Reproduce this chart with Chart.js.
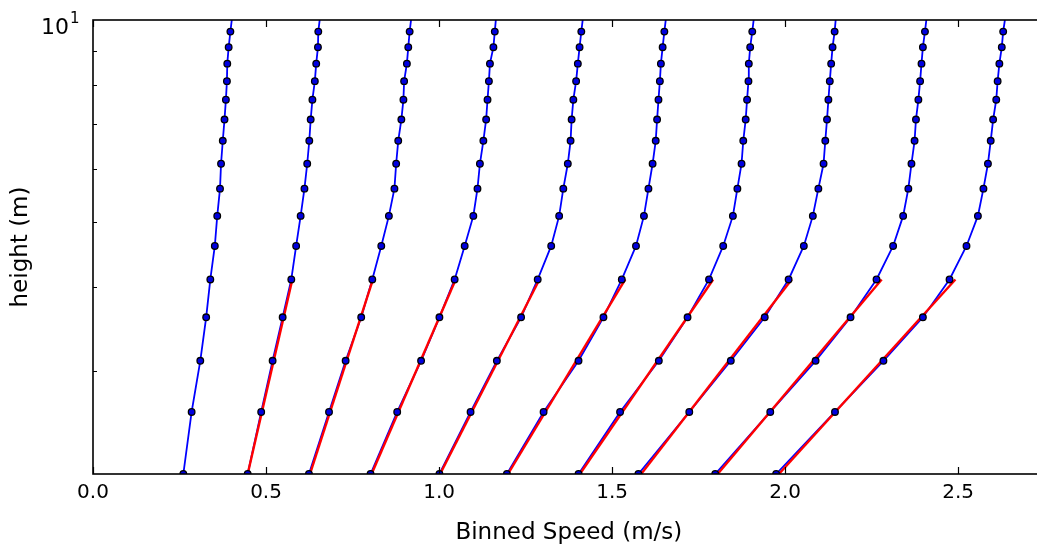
<!DOCTYPE html>
<html>
<head>
<meta charset="utf-8">
<script src="https://cdn.jsdelivr.net/npm/chart.js@4/dist/chart.umd.min.js"></script>
<style>
  html, body { margin: 0; padding: 0; background: #fff; overflow: hidden; }
  #wrap { width: 1037px; height: 550px; overflow: hidden; }
  canvas { display: block; }
</style>
</head>
<body>
<div id="wrap"><canvas id="c" width="1050" height="550" style="width:1050px;height:550px"></canvas></div>
<script>
// Heights of the bins (m), bottom to top
const heights = [2.11, 2.61, 3.11, 3.61, 4.11, 4.61, 5.11, 5.61, 6.11, 6.61, 7.11, 7.61, 8.11, 8.61, 9.11, 9.61];
// Binned speed profiles (m/s), one array per bin, bottom to top
const speed1  = [0.261, 0.285, 0.310, 0.327, 0.339, 0.352, 0.359, 0.367, 0.370, 0.375, 0.380, 0.384, 0.387, 0.388, 0.392, 0.397];
const speed2  = [0.447, 0.486, 0.519, 0.548, 0.573, 0.587, 0.600, 0.611, 0.619, 0.625, 0.629, 0.634, 0.641, 0.645, 0.650, 0.651];
const speed3  = [0.624, 0.682, 0.730, 0.775, 0.807, 0.833, 0.855, 0.871, 0.876, 0.882, 0.891, 0.897, 0.899, 0.907, 0.911, 0.915];
const speed4  = [0.802, 0.879, 0.948, 1.001, 1.045, 1.074, 1.099, 1.111, 1.118, 1.128, 1.136, 1.140, 1.144, 1.147, 1.157, 1.161];
const speed5  = [1.001, 1.091, 1.167, 1.237, 1.285, 1.324, 1.347, 1.359, 1.372, 1.380, 1.383, 1.388, 1.396, 1.401, 1.406, 1.411];
const speed6  = [1.196, 1.302, 1.403, 1.475, 1.528, 1.569, 1.592, 1.605, 1.617, 1.626, 1.630, 1.634, 1.638, 1.641, 1.646, 1.651];
const speed7  = [1.403, 1.523, 1.635, 1.718, 1.780, 1.821, 1.849, 1.862, 1.874, 1.879, 1.886, 1.890, 1.894, 1.895, 1.899, 1.905];
const speed8  = [1.576, 1.723, 1.843, 1.941, 2.010, 2.054, 2.080, 2.096, 2.111, 2.116, 2.121, 2.125, 2.129, 2.133, 2.137, 2.143];
const speed9  = [1.798, 1.957, 2.088, 2.189, 2.264, 2.312, 2.341, 2.356, 2.365, 2.374, 2.378, 2.385, 2.390, 2.394, 2.398, 2.404];
const speed10 = [1.974, 2.144, 2.284, 2.398, 2.475, 2.524, 2.557, 2.573, 2.586, 2.594, 2.601, 2.610, 2.614, 2.619, 2.626, 2.630];
const profiles = [speed1, speed2, speed3, speed4, speed5, speed6, speed7, speed8, speed9, speed10];
// Profile curve value where it leaves the top of the plot (height 10 m)
const topHeight = 10;
const topSpeed = [0.401, 0.655, 0.919, 1.164, 1.415, 1.655, 1.909, 2.146, 2.408, 2.635];
// Log-law fits over the lower bins (red): heights and speeds at the fit ends
const fitHeights = [2.11, 4.11];
const fitLow  = [null, 0.447, 0.627, 0.805, 1.003, 1.199, 1.407, 1.584, 1.805, 1.982];
const fitHigh = [null, 0.576, 0.809, 1.048, 1.290, 1.538, 1.792, 2.019, 2.279, 2.492];
// Axes
const xTicks = [0.0, 0.5, 1.0, 1.5, 2.0, 2.5];
const yMinorTicks = [3, 4, 5, 6, 7, 8, 9];
const xRange = [0, 2.75];
const yRange = [2.11, 10];
const xLabel = 'Binned Speed (m/s)';
const yLabel = 'height (m)';

const FONT = "'DejaVu Sans', 'Liberation Sans', sans-serif";

const datasets = [];
profiles.forEach((sp, i) => {
  const pts = heights.map((h, k) => ({ x: sp[k], y: h }));
  datasets.push({
    data: pts.concat([{ x: topSpeed[i], y: topHeight }]),
    showLine: true, borderColor: '#0000ff', borderWidth: 1.8,
    pointRadius: 0, order: 3, clip: 0
  });
  if (fitLow[i] !== null) {
    datasets.push({
      data: [{ x: fitLow[i], y: fitHeights[0] }, { x: fitHigh[i], y: fitHeights[1] }],
      showLine: true, borderColor: '#ff0000', borderWidth: 2.4,
      pointRadius: 0, order: 2, clip: 0
    });
  }
  datasets.push({
    data: pts, showLine: false,
    pointRadius: 3.3, pointBackgroundColor: '#0000e0', pointBorderColor: '#000000',
    pointBorderWidth: 1.3, order: 1, clip: 0
  });
});

const framePlugin = {
  id: 'frame',
  afterDatasetsDraw(chart) {
    const { ctx, chartArea: a, scales } = chart;
    const xs = scales.x, ys = scales.y;
    ctx.save();
    ctx.strokeStyle = '#000';
    ctx.lineWidth = 1.2;
    // x ticks (inward, bottom and top)
    xTicks.forEach(v => {
      const px = Math.round(xs.getPixelForValue(v)) + 0.5;
      ctx.beginPath();
      ctx.moveTo(px, a.bottom); ctx.lineTo(px, a.bottom - 7);
      ctx.moveTo(px, a.top); ctx.lineTo(px, a.top + 7);
      ctx.stroke();
    });
    // y minor ticks (inward, left and right)
    yMinorTicks.forEach(v => {
      const py = Math.round(ys.getPixelForValue(v)) + 0.5;
      ctx.beginPath();
      ctx.moveTo(a.left, py); ctx.lineTo(a.left + 4, py);
      ctx.moveTo(a.right, py); ctx.lineTo(a.right - 4, py);
      ctx.stroke();
    });
    // frame
    ctx.lineWidth = 1.6;
    ctx.strokeRect(a.left, a.top, a.right - a.left, a.bottom - a.top);
    // y tick label 10^1
    const py = ys.getPixelForValue(10);
    ctx.fillStyle = '#000';
    ctx.textBaseline = 'alphabetic';
    ctx.textAlign = 'right';
    ctx.font = '22px ' + FONT;
    ctx.fillText('10', 69, py + 14);
    ctx.textAlign = 'left';
    ctx.font = '15px ' + FONT;
    ctx.fillText('1', 70, py + 3);
    ctx.restore();
  }
};

new Chart(document.getElementById('c'), {
  type: 'scatter',
  data: { datasets },
  options: {
    responsive: false,
    animation: false,
    layout: { padding: { left: 0, top: 20, right: 2, bottom: 0 } },
    plugins: { legend: { display: false }, tooltip: { enabled: false } },
    scales: {
      x: {
        type: 'linear', min: xRange[0], max: xRange[1],
        grid: { display: false, drawTicks: false },
        border: { display: false },
        ticks: {
          stepSize: 0.5, includeBounds: false, padding: 7,
          font: { family: FONT, size: 20 }, color: '#000',
          callback: v => Number(v).toFixed(1)
        },
        title: { display: true, text: xLabel, color: '#000',
                 font: { family: FONT, size: 23 }, padding: { top: 0, bottom: 3 } },
        afterFit: s => { s.height = 76; }
      },
      y: {
        type: 'logarithmic', min: yRange[0], max: yRange[1],
        grid: { display: false, drawTicks: false },
        border: { display: false },
        ticks: { display: false },
        title: { display: true, text: yLabel, color: '#000',
                 font: { family: FONT, size: 23 }, padding: { top: 7, bottom: 0 } },
        afterFit: s => { s.width = 93; }
      }
    }
  },
  plugins: [framePlugin]
});
</script>
</body>
</html>
